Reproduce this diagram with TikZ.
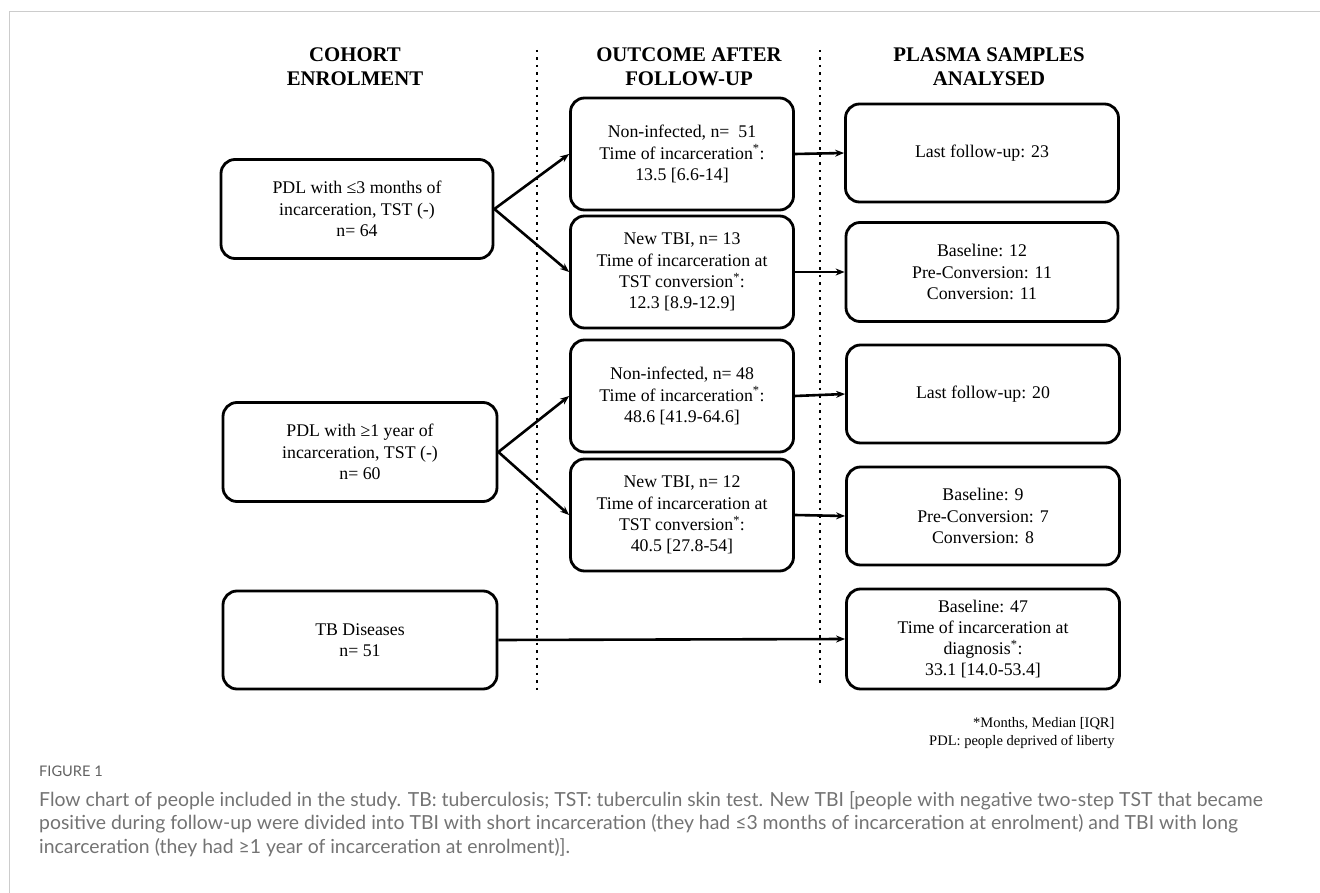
\documentclass[tikz,border=0pt]{standalone}
\usepackage{fontspec}
\setmainfont{Liberation Serif}
\newfontfamily\capfont{Lato}
\usetikzlibrary{arrows.meta}
\tikzset{
  box/.style={draw,line width=2.8pt,rounded corners=14pt,align=center,inner sep=0pt,
    font=\fontsize{17.8}{21.2}\selectfont},
  head/.style={align=center,font=\bfseries\fontsize{20.8}{24}\selectfont},
  link/.style={line width=2.6pt,-{Stealth[length=9pt,width=7pt]}},
  sepline/.style={line width=2.4pt,dash pattern=on 2.5pt off 5pt},
}
\begin{document}
\begin{tikzpicture}[x=1pt,y=-1pt]
\useasboundingbox (0,0) rectangle (1320,893);
%\draw[step=50,gray,very thin] (0,0) grid (1320,893); %background grid
\draw[black!20,line width=1pt](9,893)--(9,12)--(1320,12);

% column headers
\node[head] (hcohort) at (355,67) {COHORT\\ENROLMENT};
\node[head] (houtcome) at (689,67) {OUTCOME AFTER\\FOLLOW-UP};
\node[head] (hplasma) at (989,67) {PLASMA SAMPLES\\ANALYSED};

\draw[sepline](537,50)--(537,690);
\draw[sepline](820,50)--(820,684);

% cohort enrolment
\node[box,minimum width=272pt,minimum height=99pt] (pdlS) at (357,209) {PDL with ≤3 months of\\incarceration, TST (-)\\n= 64}; %1
\node[box,minimum width=274pt,minimum height=99pt] (pdlL) at (360,452) {PDL with ≥1 year of\\incarceration, TST (-)\\n= 60}; %2
\node[box,minimum width=274pt,minimum height=98pt] (tbd) at (360,640) {TB Diseases\\n= 51}; %3

% outcome after follow-up
\node[box,minimum width=223pt,minimum height=112pt] (nonS) at (682,154) {Non-infected, n=~~51\\Time of incarceration\textsuperscript{*}:\\13.5 [6.6-14]}; %1
\node[box,minimum width=223pt,minimum height=112pt] (tbiS) at (682,272) {New TBI, n= 13\\Time of incarceration at\\TST conversion\textsuperscript{*}:\\12.3 [8.9-12.9]}; %2
\node[box,minimum width=223pt,minimum height=112pt] (nonL) at (682,396) {Non-infected, n= 48\\Time of incarceration\textsuperscript{*}:\\48.6 [41.9-64.6]}; %3
\node[box,minimum width=223pt,minimum height=112pt] (tbiL) at (682,515) {New TBI, n= 12\\Time of incarceration at\\TST conversion\textsuperscript{*}:\\40.5 [27.8-54]}; %4

% plasma samples analysed
\node[box,minimum width=273pt,minimum height=98pt] (lastS) at (982,153) {Last follow-up: 23}; %1
\node[box,minimum width=272pt,minimum height=99pt] (convS) at (982,272) {Baseline: 12\\Pre-Conversion: 11\\Conversion: 11}; %2
\node[box,minimum width=273pt,minimum height=98pt] (lastL) at (983,394) {Last follow-up: 20}; %3
\node[box,minimum width=273pt,minimum height=98pt] (convL) at (983,516) {Baseline: 9\\Pre-Conversion: 7\\Conversion: 8}; %4
\node[box,minimum width=273pt,minimum height=100pt] (tbdR) at (983,639) {Baseline: 47\\Time of incarceration at\\diagnosis\textsuperscript{*}:\\33.1 [14.0-53.4]}; %5

\draw[link](pdlS.east)--(nonS.west);
\draw[link](pdlS.east)--(tbiS.west);
\draw[link](pdlL.east)--(nonL.west);
\draw[link](pdlL.east)--(tbiL.west);
\draw[link](nonS.east)--(lastS.west);
\draw[link](tbiS.east)--(convS.west);
\draw[link](nonL.east)--(lastL.west);
\draw[link](tbiL.east)--(convL.west);
\draw[link](tbd.east)--(tbdR.west);

\node[anchor=north east,align=right,font=\fontsize{14.5}{18}\selectfont] (note) at (1118,714) {*Months, Median [IQR]\\PDL: people deprived of liberty};

% caption
\node[anchor=west,text=black!62,font=\capfont\fontsize{14.6}{16}\selectfont,inner sep=0pt] (figlabel) at (39,771) {FIGURE 1};
\node[anchor=north west,align=left,text=black!55,inner sep=0pt,
  font=\capfont\fontsize{19.4}{23.5}\selectfont] (caption) at (39,791) {Flow chart of people included in the study. TB: tuberculosis; TST: tuberculin skin test. New TBI [people with negative two-step TST that became\\positive during follow-up were divided into TBI with short incarceration (they had ≤3 months of incarceration at enrolment) and TBI with long\\incarceration (they had ≥1 year of incarceration at enrolment)].};
\end{tikzpicture}
\end{document}
